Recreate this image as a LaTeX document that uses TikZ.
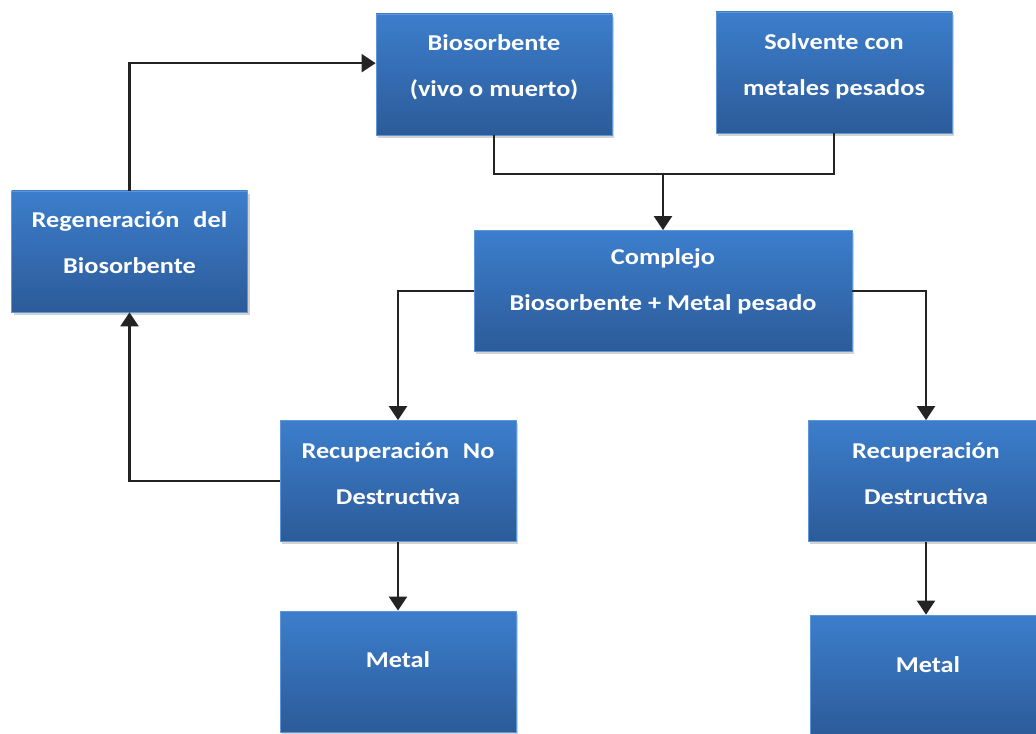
\documentclass[tikz,border=0pt]{standalone}
\usepackage{fontspec}
\usepackage{graphicx}
\setmainfont{Carlito}
\usetikzlibrary{arrows.meta,shadows,calc}
\definecolor{boxtop}{RGB}{60,126,204}
\definecolor{boxbot}{RGB}{44,91,153}
\definecolor{boxedge}{RGB}{95,150,215}
\definecolor{linec}{RGB}{35,35,35}
\newcommand{\wideln}[1]{\scalebox{1.16}[1]{#1}}
\begin{document}
\begin{tikzpicture}[x=0.75pt,y=-0.75pt,
  bluebox/.style={rectangle, inner sep=0pt, minimum width=177pt, minimum height=90.75pt,
    draw=boxedge, line width=0.5pt, top color=boxtop, bottom color=boxbot,
    drop shadow={shadow xshift=1.5pt, shadow yshift=-2pt, opacity=0.35}},
  boxtext/.style={text=white, align=center, font=\bfseries\fontsize{17}{34.5}\selectfont},
  conn/.style={draw=linec, line width=1.6pt},
  arr/.style={conn, -{Triangle[width=13.5pt,length=10.5pt]}}]
\useasboundingbox (0,0) rectangle (1036,734);
\clip (0,0) rectangle (1036,734);
% boxes
\node[bluebox] (bio) at (494,74.5) {};
\node[bluebox] (sol) at (834,72.5) {};
\node[bluebox] (regen) at (129.5,251.5) {};
\node[bluebox, minimum width=283.5pt] (comp) at (663,291) {};
\node[bluebox] (recno) at (398,481) {};
\node[bluebox] (recd) at (926,481) {};
\node[bluebox] (metA) at (398,671.5) {};
\node[bluebox] (metB) at (928,675.5) {};
% texts
\node[boxtext] (tbio) at (494,67.5) {\wideln{Biosorbente}\\\wideln{(vivo o muerto)}};
\node[boxtext] (tsol) at (834,66) {\wideln{Solvente con}\\\wideln{metales pesados}};
\node[boxtext] (tregen) at (129.5,243) {\wideln{Regeneración\hspace{0.3em} del}\\\wideln{Biosorbente}};
\node[boxtext] (tcomp) at (663,281.5) {\wideln{Complejo}\\\wideln{Biosorbente + Metal pesado}};
\node[boxtext] (trecno) at (398,473.5) {\wideln{Recuperación\hspace{0.3em} No}\\\wideln{Destructiva}};
\node[boxtext] (trecd) at (926,473.5) {\wideln{Recuperación}\\\wideln{Destructiva}};
\node[boxtext] (tmetA) at (398,660) {\wideln{Metal}};
\node[boxtext] (tmetB) at (928,665) {\wideln{Metal}};
% connectors
\coordinate (j) at (663,174);
\draw[conn] (bio.south) |- (j) -| (sol.south);
\draw[arr] (j) -- (comp.north);
\draw[arr] (comp.west) -| (recno.north);
\draw[arr] (comp.east) -| (recd.north);
\draw[arr] (recno.west) -| (regen.south);
\draw[arr] (regen.north) |- ([yshift=8.5pt]bio.west);
\draw[arr] (recno.south) -- (metA.north);
\draw[arr] (recd.south) -- (recd.south |- metB.north);
\end{tikzpicture}
\end{document}
